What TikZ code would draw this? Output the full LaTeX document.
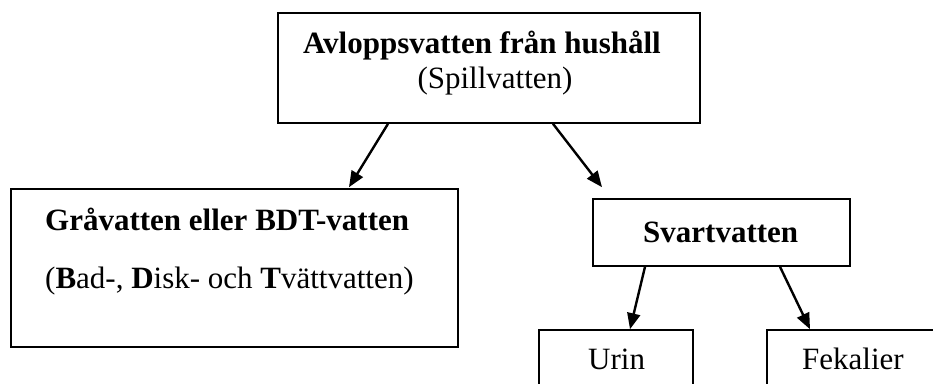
\documentclass[tikz,border=0pt]{standalone}
\usepackage{fontspec}
\setmainfont{Liberation Serif}
\usetikzlibrary{arrows.meta,calc}
\begin{document}
\begin{tikzpicture}[x=1pt,y=-1pt,
  box/.style={draw=black,line width=1.6pt,inner sep=0pt,rectangle},
  lbl/.style={inner sep=0pt,font=\fontsize{31}{37}\selectfont},
  arr/.style={line width=2.4pt,-{Triangle[length=16pt,width=13pt]}}]
\useasboundingbox (0,0) rectangle (933,383);
\clip (0,0) rectangle (933,383);
% boxes
\node[box,minimum width=422pt,minimum height=110pt] (top) at (489,68) {};
\node[box,minimum width=447pt,minimum height=158pt] (left) at (234.5,268) {};
\node[box,minimum width=257pt,minimum height=67pt] (svart) at (721.5,232.5) {};
\node[box,minimum width=154pt,minimum height=70pt] (urin) at (616,365) {};
\node[box,minimum width=183pt,minimum height=70pt] (fek) at (858.5,365) {};
% texts
\node[lbl,anchor=base] (t1) at (482,53) {\textbf{Avloppsvatten från hushåll}};
\node[lbl,anchor=base] (t2) at (495,88) {(Spillvatten)};
\node[lbl,anchor=base west] (l1) at (45,230) {\textbf{Gråvatten eller BDT-vatten}};
\node[lbl,anchor=base west] (l2) at (45,288) {(\textbf{B}ad-, \textbf{D}isk- och \textbf{T}vättvatten)};
\node[lbl,anchor=base west] (s1) at (643,242) {\textbf{Svartvatten}};
\node[lbl,anchor=base west] (u1) at (588,369) {Urin};
\node[lbl,anchor=base west] (f1) at (802,369) {Fekalier};
% arrows
\draw[arr] ([xshift=-101pt]top.south) -- ([xshift=114.5pt,yshift=1pt]left.north);
\draw[arr] ([xshift=64pt]top.south) -- ([xshift=-119.5pt,yshift=11pt]svart.north);
\draw[arr] ([xshift=-76.5pt]svart.south) -- ([xshift=14pt]urin.north);
\draw[arr] ([xshift=58.5pt]svart.south) -- ([xshift=-48.5pt]fek.north);
\end{tikzpicture}
\end{document}
